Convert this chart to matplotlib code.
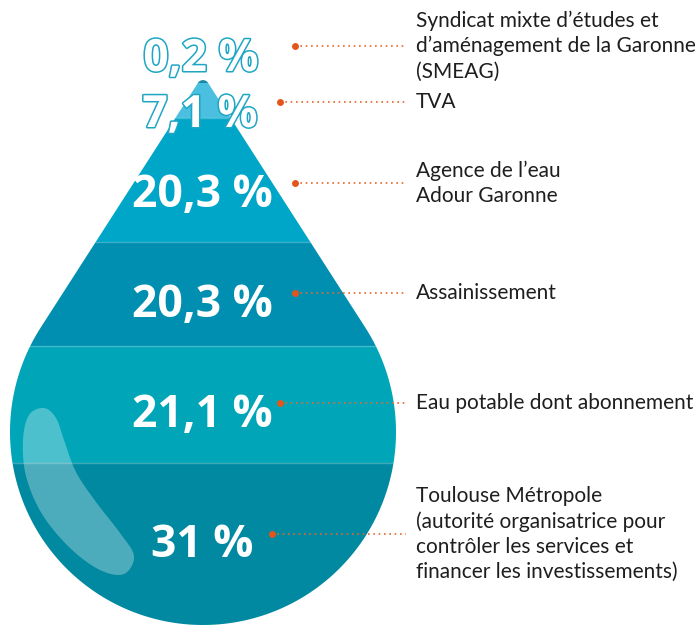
import numpy as np
import matplotlib
matplotlib.use("Agg")
import matplotlib.pyplot as plt
from matplotlib.path import Path
from matplotlib.patches import PathPatch, Rectangle
import matplotlib.patheffects as pe

# data
shares = [0.2, 7.1, 20.3, 20.3, 21.1, 31]
share_labels = ["0,2 %", "7,1 %", "20,3 %", "20,3 %", "21,1 %", "31 %"]
names = [
    "Syndicat mixte d\u2019études et\nd\u2019aménagement de la Garonne\n(SMEAG)",
    "TVA",
    "Agence de l\u2019eau\nAdour Garonne",
    "Assainissement",
    "Eau potable dont abonnement",
    "Toulouse Métropole\n(autorité organisatrice pour\ncontrôler les services et\nfinancer les investissements)",
]

# layout (pixel space of the picture)
band_edges = [70, 83, 118, 242, 346, 463, 640]
band_colors = ["#1a87a6", "#4bbfe0", "#00a6c8", "#008fb1", "#00a5b7", "#0089a0"]
label_y = [71, 127, 207, 317, 427, 557]
label_x = [201, 200, 202, 202, 202, 202]
outlined = [True, True, False, False, False, False]
dot_x = [295, 280, 295, 295, 280, 272]
dot_y = [46, 102, 183, 293, 403, 534]
line_end = 406
text_x = 416

W, H = 695, 626
fig = plt.figure(figsize=(W / 100, H / 100), dpi=100)
ax = fig.add_axes([0, 0, 1, 1])
ax.set_xlim(0, W)
ax.set_ylim(H, 0)
ax.axis("off")

# drop outline: apex + two tangents + circle
cx, cy, r = 203, 432, 193
apex_y = 75
a = np.arcsin(r / (cy - apex_y))
rc = 6
ccy = apex_y + rc / np.sin(a)
pts = []
for p in np.linspace(-(np.pi / 2 - a), np.pi / 2 - a, 20):
    pts.append((cx + rc * np.sin(p), ccy - rc * np.cos(p)))
for p in np.linspace(np.pi / 2 - a, 1.5 * np.pi + a, 200):
    pts.append((cx + r * np.sin(p), cy - r * np.cos(p)))
pts.append(pts[0])
drop_path = Path(pts, closed=True)
drop = PathPatch(drop_path, facecolor="none", edgecolor="none")
ax.add_patch(drop)

for i, col in enumerate(band_colors):
    y0, y1 = band_edges[i], band_edges[i + 1]
    rect = Rectangle((0, y0), W, y1 - y0, facecolor=col, edgecolor="none")
    ax.add_patch(rect)
    rect.set_clip_path(drop)
    if i >= 2:
        sep = ax.plot([0, W], [y0, y0], color="white", alpha=0.25, lw=1)[0]
        sep.set_clip_path(drop)

# highlight blob on the left
def smooth_closed(p, n=20):
    p = np.asarray(p, float)
    k = len(p)
    out = []
    for i in range(k):
        p0, p1, p2, p3 = p[i - 1], p[i], p[(i + 1) % k], p[(i + 2) % k]
        for t in np.linspace(0, 1, n, endpoint=False):
            t2, t3 = t * t, t * t * t
            out.append(0.5 * ((2 * p1) + (-p0 + p2) * t
                              + (2 * p0 - 5 * p1 + 4 * p2 - p3) * t2
                              + (-p0 + 3 * p1 - 3 * p2 + p3) * t3))
    out.append(out[0])
    return Path(out, closed=True)

blob = [(44, 408), (56, 418), (64, 440), (76, 472), (96, 502), (120, 533),
        (134, 556), (124, 574), (100, 570), (70, 548), (42, 514), (26, 476),
        (23, 440), (29, 415)]
hl = PathPatch(smooth_closed(blob), facecolor="white", edgecolor="none", alpha=0.3)
ax.add_patch(hl)
hl.set_clip_path(drop)

pct_font = ["Open Sans", "DejaVu Sans"]
for i, lab in enumerate(share_labels):
    if outlined[i]:
        t = ax.text(label_x[i], label_y[i], lab, color="white", fontsize=32,
                    fontweight="bold", family=pct_font, ha="center", va="baseline")
        t.set_path_effects([pe.Stroke(linewidth=2.2, foreground="#1ea6c4"), pe.Normal()])
    else:
        ax.text(label_x[i], label_y[i], lab, color="white", fontsize=32,
                fontweight="bold", family=pct_font, ha="center", va="baseline")

    ax.plot([dot_x[i], line_end], [dot_y[i], dot_y[i]], color="#e8672c",
            lw=1.2, ls=(0, (1, 2.2)))
    ax.plot(dot_x[i], dot_y[i], "o", color="#e2561c", ms=5, mec="none")
    ax.text(text_x, dot_y[i], names[i], color="#1e1e1e", fontsize=15,
            family=["Lato", "DejaVu Sans"], ha="left", va="center", linespacing=1.32)

fig.savefig("out.png", dpi=100)
